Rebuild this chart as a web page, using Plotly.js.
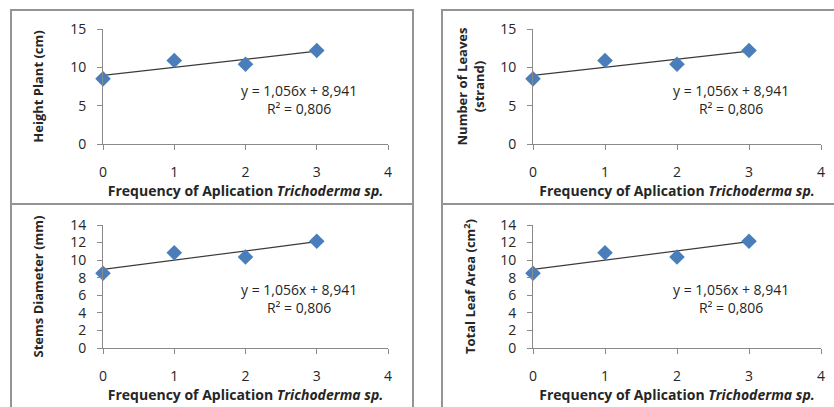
<!DOCTYPE html>
<html>
<head>
<meta charset="utf-8">
<script src="https://cdn.plot.ly/plotly-3.0.1.min.js"></script>
<style>html,body{margin:0;padding:0;background:#fff;}#chart{width:834px;height:407px;}</style>
</head>
<body>
<div id="chart"></div>
<script>
// ---- data ----
const frequency = [0, 1, 2, 3];
const heightPlant = [8.5, 10.9, 10.4, 12.2];
const numberOfLeaves = [8.5, 10.9, 10.4, 12.2];
const stemsDiameter = [8.5, 10.85, 10.35, 12.15];
const totalLeafArea = [8.5, 10.85, 10.35, 12.15];
const trendSlope = [1.056, 1.056, 1.056, 1.056];
const trendIntercept = [8.941, 8.941, 8.941, 8.941];
const equationLabels = ["y = 1,056x + 8,941", "y = 1,056x + 8,941", "y = 1,056x + 8,941", "y = 1,056x + 8,941"];
const r2Labels = ["R² = 0,806", "R² = 0,806", "R² = 0,806", "R² = 0,806"];
const yTitles = ["Height Plant (cm)", "Number of Leaves<br>(strand)", "Stems Diameter (mm)", "Total Leaf Area (cm<sup>2</sup>)"];
const xTitle = "Frequency of Aplication <i>Trichoderma sp.</i>";
const xTicks = [0, 1, 2, 3, 4];
const yRanges = [[0, 15], [0, 15], [0, 14], [0, 14]];
const yDticks = [5, 5, 2, 2];

const series = [heightPlant, numberOfLeaves, stemsDiameter, totalLeafArea];

// ---- layout geometry (pixels) ----
const W = 834, H = 407;
const px = v => v / W;
const py = v => 1 - v / H;
const plotBoxes = [
  {x0: 103, x1: 388, y0: 29, y1: 144},
  {x0: 533, x1: 821, y0: 29, y1: 144},
  {x0: 103, x1: 388, y0: 225, y1: 348},
  {x0: 533, x1: 821, y0: 225, y1: 348}
];
const panels = [
  {x0: 11, x1: 413, y0: 10, y1: 204},
  {x0: 442, x1: 850, y0: 10, y1: 204},
  {x0: 11, x1: 413, y0: 204, y1: 420},
  {x0: 442, x1: 850, y0: 204, y1: 420}
];
const yTitleStandoff = [23, 12, 23, 21];
const eqPos = [{x: 0.688, y: 0.39}, {x: 0.689, y: 0.39}, {x: 0.688, y: 0.40}, {x: 0.689, y: 0.40}];

const FONT = "Open Sans, Liberation Sans, Arial, sans-serif";
const markerColor = "#4a7ebb";
const axisColor = "#8a8a8a";
const textColor = "#262626";

const traces = [];
const layout = {
  width: W, height: H,
  margin: {l: 0, r: 0, t: 0, b: 0},
  paper_bgcolor: "#fff", plot_bgcolor: "rgba(0,0,0,0)",
  showlegend: false,
  font: {family: FONT, size: 12, color: textColor},
  shapes: [], annotations: []
};

series.forEach((ys, i) => {
  const n = i + 1;
  const xa = n === 1 ? "x" : "x" + n;
  const ya = n === 1 ? "y" : "y" + n;
  const trendX = [frequency[0], frequency[frequency.length - 1]];
  const trendY = trendX.map(v => trendSlope[i] * v + trendIntercept[i]);
  traces.push({
    x: trendX, y: trendY, xaxis: xa, yaxis: ya, type: "scatter", mode: "lines",
    line: {color: "#3a3a3a", width: 1.2}, hoverinfo: "skip", cliponaxis: false
  });
  traces.push({
    x: frequency, y: ys, xaxis: xa, yaxis: ya, type: "scatter", mode: "markers",
    marker: {symbol: "diamond", size: 12, color: markerColor}, cliponaxis: false
  });
  const b = plotBoxes[i];
  layout["xaxis" + (n === 1 ? "" : n)] = {
    domain: [px(b.x0), px(b.x1)], anchor: ya, range: [0, 4],
    tickvals: xTicks, ticks: "outside", ticklen: 5, tickcolor: axisColor,
    ticklabelstandoff: 10,
    showline: true, linecolor: axisColor, linewidth: 1,
    showgrid: false, zeroline: false,
    tickfont: {family: FONT, size: 14, color: textColor},
    title: {text: xTitle, standoff: 5, font: {family: FONT, size: 14, color: textColor, weight: "bold"}}
  };
  layout["yaxis" + (n === 1 ? "" : n)] = {
    domain: [py(b.y1), py(b.y0)], anchor: xa, range: yRanges[i],
    dtick: yDticks[i], tick0: 0, ticks: "outside", ticklen: 5, tickcolor: axisColor,
    ticklabelstandoff: 8,
    showline: true, linecolor: axisColor, linewidth: 1,
    showgrid: false, zeroline: false,
    tickfont: {family: FONT, size: 14, color: textColor},
    title: {text: yTitles[i], standoff: yTitleStandoff[i], font: {family: FONT, size: 13, color: textColor, weight: "bold"}}
  };
  const p = panels[i];
  layout.shapes.push({
    type: "rect", xref: "paper", yref: "paper",
    x0: px(p.x0), x1: px(p.x1), y0: py(p.y1), y1: py(p.y0),
    line: {color: "#949494", width: 2}, fillcolor: "rgba(0,0,0,0)", layer: "below"
  });
  layout.annotations.push({
    xref: xa + " domain", yref: ya + " domain", x: eqPos[i].x, y: eqPos[i].y,
    xanchor: "center", yanchor: "middle", showarrow: false,
    text: equationLabels[i] + "<br>" + r2Labels[i],
    font: {family: FONT, size: 14, color: textColor}, align: "center"
  });
});

Plotly.newPlot("chart", traces, layout, {staticPlot: true});
</script>
</body>
</html>
